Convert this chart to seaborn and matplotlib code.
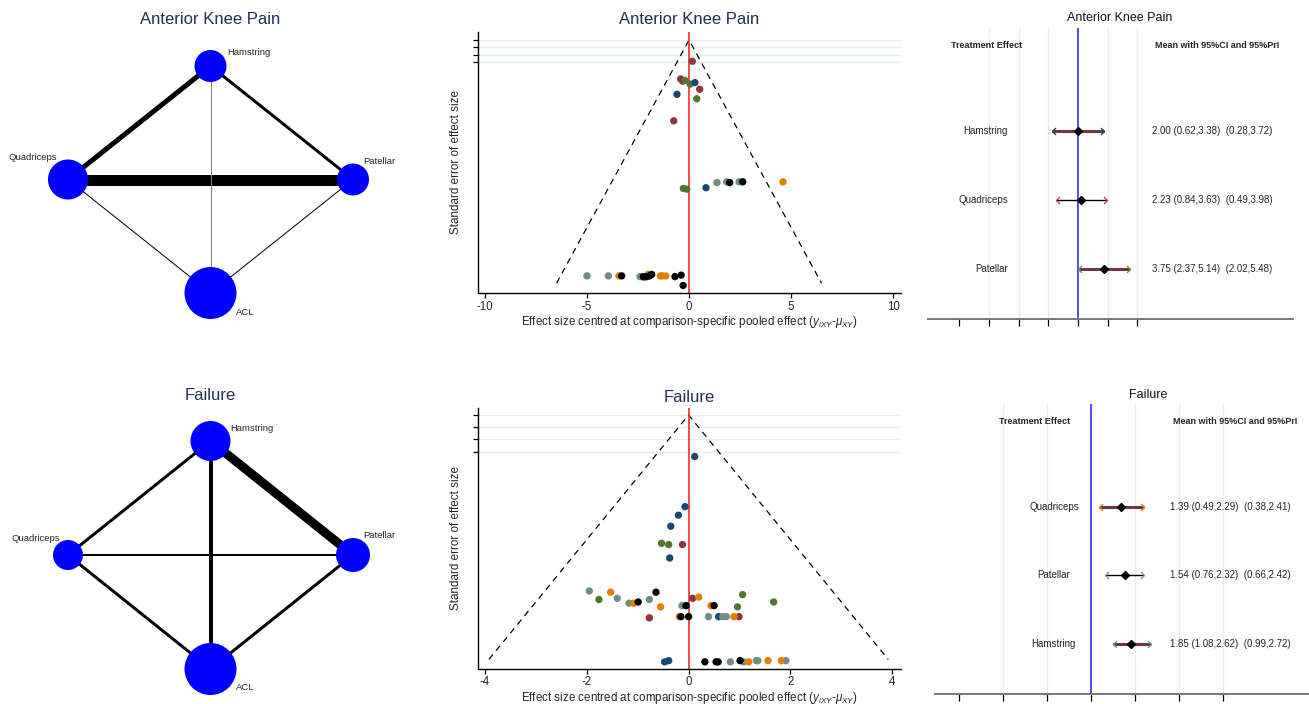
import matplotlib
matplotlib.use('Agg')
import numpy as np
import pandas as pd
import matplotlib.pyplot as plt
import seaborn as sns
from matplotlib.path import Path

sns.set_style('white')
plt.rcParams['font.family'] = ['Liberation Sans', 'DejaVu Sans']
plt.rcParams['mathtext.fontset'] = 'custom'
plt.rcParams['mathtext.rm'] = 'Liberation Sans'
plt.rcParams['mathtext.it'] = 'Liberation Sans:italic'

W, H = 1309, 704
TITLE_COL = '#1f2f55'

# ---------------- data ----------------
# network plots
node_names = ['Hamstring', 'Quadriceps', 'Patellar', 'ACL']
node_xy = {'Hamstring': (0, 1), 'Quadriceps': (-1, 0), 'Patellar': (1, 0), 'ACL': (0, -1)}
edge_pairs = [('Hamstring', 'Quadriceps'), ('Hamstring', 'Patellar'), ('Quadriceps', 'Patellar'),
              ('Hamstring', 'ACL'), ('Quadriceps', 'ACL'), ('Patellar', 'ACL')]
akp_node_size = [16, 20, 16, 26]
akp_edge_n = [5, 3, 11, 1, 1, 1]
fail_node_size = [20, 15, 17, 26]
fail_edge_n = [3, 9, 2, 4, 3, 3]

# comparison-adjusted funnel plots
akp_grp = (['maroon'] * 5 + ['forest_green'] * 5 + ['navy'] * 3 + ['teal'] * 7
           + ['dkorange'] * 6 + ['black'] * 10)
akp_x = [0.16, -0.41, -0.31, 0.52, -0.75,
         -0.20, 0.05, 0.38, -0.28, -0.11,
         0.29, -0.59, 0.83,
         1.37, 1.84, 2.45, -5.0, -3.95, -2.40, -2.20,
         4.60, -3.43, -2.00, -1.40, -1.32, -1.14,
         1.99, 2.63, -3.30, -2.24, -2.07, -1.94, -1.83, -0.69, -0.39, -0.29]
akp_se = [0.29, 0.53, 0.56, 0.67, 1.10,
          0.55, 0.60, 0.80, 2.02, 2.03,
          0.58, 0.74, 2.01,
          1.94, 1.93, 1.93, 3.21, 3.21, 3.22, 3.23,
          1.93, 3.21, 3.19, 3.21, 3.21, 3.21,
          1.94, 1.93, 3.21, 3.22, 3.22, 3.21, 3.19, 3.22, 3.20, 3.34]
akp_se_max = 3.31

fail_grp = (['navy'] * 8 + ['forest_green'] * 6 + ['maroon'] * 4 + ['teal'] * 13
            + ['dkorange'] * 10 + ['black'] * 10)
fail_x = [0.12, -0.07, -0.20, -0.35, -0.37, 0.59, -0.47, -0.39,
          -0.53, -0.39, -1.76, 1.06, 0.96, 1.67,
          -0.12, -0.77, 0.08, 0.99,
          -1.95, -1.40, -1.17, -0.77, -0.13, 0.39, 0.67, 0.74, 0.82, 1.08, 1.33, 1.36, 1.91,
          -1.53, -1.08, -0.55, 0.20, 0.44, -0.18, 0.89, 1.18, 1.56, 1.82,
          -0.64, -0.99, -0.05, 0.50, -0.15, 0.00, 0.32, 0.54, 0.58, 1.01]
fail_se = [0.34, 0.75, 0.82, 0.91, 1.17, 1.65, 2.02, 2.01,
           1.05, 1.06, 1.51, 1.47, 1.57, 1.53,
           1.06, 1.66, 1.50, 1.65,
           1.44, 1.50, 1.54, 1.51, 1.56, 1.65, 1.65, 1.65, 2.02, 2.02, 2.01, 2.01, 2.01,
           1.45, 1.54, 1.57, 1.49, 1.56, 1.65, 1.65, 2.02, 2.01, 2.01,
           1.45, 1.53, 1.56, 1.56, 1.65, 1.65, 2.02, 2.02, 2.02, 2.01]
fail_se_max = 2.0

# forest plots
akp_treat = ['Hamstring', 'Quadriceps', 'Patellar']
akp_mean = [2.00, 2.23, 3.75]
akp_ci = [(0.62, 3.38), (0.84, 3.63), (2.37, 5.14)]
akp_pri = [(0.28, 3.72), (0.49, 3.98), (2.02, 5.48)]
akp_ref = 2.0

fail_treat = ['Quadriceps', 'Patellar', 'Hamstring']
fail_mean = [1.39, 1.54, 1.85]
fail_ci = [(0.49, 2.29), (0.76, 2.32), (1.08, 2.62)]
fail_pri = [(0.38, 2.41), (0.66, 2.42), (0.99, 2.72)]
fail_ref = 0.0

forest_ticks = [-6, -4, -2, 0, 2, 4, 6]

palette = {'navy': '#1a476f', 'maroon': '#90353b', 'forest_green': '#55752f',
           'dkorange': '#e37e00', 'teal': '#6e8e84', 'black': '#000000'}


def rect(l, t, r, b):
    return [l / W, 1 - b / H, (r - l) / W, (b - t) / H]


fig = plt.figure(figsize=(W / 100, H / 100), dpi=100)


# ---------------- network plots ----------------
def network(ax, sizes, edge_n, label_off, grey_edge=None):
    for k, (a, b) in enumerate(edge_pairs):
        xa, ya = node_xy[a]
        xb, yb = node_xy[b]
        col = '#808080' if k == grey_edge else 'black'
        ax.plot([xa, xb], [ya, yb], color=col, lw=edge_n[k] * 0.72,
                solid_capstyle='butt', zorder=1)
    xs = [node_xy[n][0] for n in node_names]
    ys = [node_xy[n][1] for n in node_names]
    s = [(2 * r * 0.72) ** 2 for r in sizes]
    ax.scatter(xs, ys, s=s, color='#0000ff', edgecolor='none', zorder=2)
    for n, (dx, dy, ha) in zip(node_names, label_off):
        ax.annotate(n, node_xy[n], xytext=(dx * 0.72, -dy * 0.72), textcoords='offset points',
                    ha=ha, va='center', fontsize=6.8)
    ax.set_axis_off()


ax = fig.add_axes(rect(0, 40, 421, 340))
network(ax, akp_node_size, akp_edge_n,
        [(17, -13, 'left'), (-11, -22, 'right'), (10, -18, 'left'), (25, 19, 'left')], grey_edge=3)
ax.set_xlim(-1.477, 1.477)
ax.set_ylim(-1.414, 1.229)

ax = fig.add_axes(rect(0, 410, 421, 704))
network(ax, fail_node_size, fail_edge_n,
        [(20, -13, 'left'), (-8, -17, 'right'), (10, -20, 'left'), (25, 18, 'left')])
ax.set_xlim(-1.477, 1.477)
ax.set_ylim(-1.307, 1.272)

fig.text(210 / W, 1 - 20 / H, 'Anterior Knee Pain', ha='center', va='center', fontsize=12, color=TITLE_COL)
fig.text(210 / W, 1 - 396 / H, 'Failure', ha='center', va='center', fontsize=12, color=TITLE_COL)


# ---------------- funnel plots ----------------
def funnel(ax, x, se, grp, se_max, xticks, xlim, ylim):
    df = pd.DataFrame({'x': x, 'se': se, 'grp': grp})
    ax.set_yticks([0, 0.1, 0.2, 0.3])
    ax.set_yticklabels([])
    ax.yaxis.grid(True, color='#e4edf1', lw=1)
    ax.set_axisbelow(True)
    ax.plot([-1.96 * se_max, 0, 1.96 * se_max], [se_max, 0, se_max], color='black',
            lw=0.9, ls=(0, (5, 4)), zorder=2)
    ax.axvline(0, color='#e8302a', lw=1.2, zorder=2)
    sns.scatterplot(data=df, x='x', y='se', hue='grp', palette=palette, s=28,
                    edgecolor='none', legend=False, ax=ax, zorder=3)
    ax.set_xticks(xticks)
    ax.set_xticklabels([str(t) for t in xticks], fontsize=8.3)
    ax.set_xlim(*xlim)
    ax.set_ylim(*ylim)
    for sp in ['top', 'right']:
        ax.spines[sp].set_visible(False)
    for sp in ['left', 'bottom']:
        ax.spines[sp].set_color('black')
        ax.spines[sp].set_linewidth(1.0)
    ax.tick_params(axis='both', direction='out', length=3.5, width=0.9, color='black',
                   left=True, bottom=True, pad=2)
    ax.set_ylabel('Standard error of effect size', fontsize=8.4, labelpad=6)
    ax.set_xlabel(r'Effect size centred at comparison-specific pooled effect ($y_{iXY}$-$\mu_{XY}$)',
                  fontsize=8.4, labelpad=1)


ax = fig.add_axes(rect(477.7, 31.7, 901, 293.3))
funnel(ax, akp_x, akp_se, akp_grp, akp_se_max, [-10, -5, 0, 5, 10], (-10.35, 10.38), (3.447, -0.113))
ax = fig.add_axes(rect(477.7, 408.3, 901, 668.7))
funnel(ax, fail_x, fail_se, fail_grp, fail_se_max, [-4, -2, 0, 2, 4], (-4.14, 4.17), (2.076, -0.055))

fig.text(689 / W, 1 - 20 / H, 'Anterior Knee Pain', ha='center', va='center', fontsize=12, color=TITLE_COL)
fig.text(689 / W, 1 - 397 / H, 'Failure', ha='center', va='center', fontsize=12, color=TITLE_COL)

# ---------------- forest plots ----------------
chev_l = Path([(1, 1), (0, 0), (1, -1)], [Path.MOVETO, Path.LINETO, Path.LINETO])
chev_r = Path([(-1, 1), (0, 0), (-1, -1)], [Path.MOVETO, Path.LINETO, Path.LINETO])


def forest(ax, treat, mean, ci, pri, ref, arrow_cols, xlim, lab_x, lab_ha, head_x, val_x, vhead_x):
    ax.set_xlim(*xlim)
    ax.set_ylim(3.73, -0.5)
    for t in forest_ticks[1:]:
        if t != ref:
            ax.axvline(t, color='#e4edf1', lw=1, zorder=0)
    ax.axvline(ref, color='#2f2fff', lw=1.2, zorder=1)
    for i, name in enumerate(treat):
        y = i + 1
        thick = i != 1
        ax.hlines(y, pri[i][0], pri[i][1], color='#6b3844' if thick else 'black',
                  lw=2.2 if thick else 1.0, zorder=2)
        ax.plot([pri[i][0]], [y], marker=chev_l, ms=5, mfc='none', mec=arrow_cols[i], mew=1.0, zorder=3)
        ax.plot([pri[i][1]], [y], marker=chev_r, ms=5, mfc='none', mec=arrow_cols[i], mew=1.0, zorder=3)
        ax.plot([mean[i]], [y], marker='D', ms=4, color='black', zorder=4)
        tr = ax.get_yaxis_transform()
        ax.text(lab_x, y, name, transform=tr, ha=lab_ha, va='center', fontsize=7)
        ax.text(val_x, y, '%.2f (%.2f,%.2f)  (%.2f,%.2f)' % (mean[i], ci[i][0], ci[i][1], pri[i][0], pri[i][1]),
                transform=tr, ha='left', va='center', fontsize=7)
    tr = ax.get_yaxis_transform()
    ax.text(head_x, -0.24, 'Treatment Effect', transform=tr, ha='center', va='center',
            fontsize=6.5, fontweight='bold')
    ax.text(vhead_x, -0.24, 'Mean with 95%CI and 95%PrI', transform=tr, ha='center', va='center',
            fontsize=6.5, fontweight='bold')
    ax.set_xticks(forest_ticks)
    ax.set_xticklabels([])
    ax.set_yticks([])
    for sp in ['top', 'right', 'left']:
        ax.spines[sp].set_visible(False)
    ax.spines['bottom'].set_color('#777777')
    ax.spines['bottom'].set_linewidth(1.4)
    ax.tick_params(axis='x', direction='out', length=5, width=0.9, color='black', bottom=True)


ax = fig.add_axes(rect(928, 28, 1293, 319))
forest(ax, akp_treat, akp_mean, akp_ci, akp_pri, akp_ref, ['#1a476f', '#c0404e', '#6f9a3a'],
       (-8.10, 16.48), 0.219, 'right', 0.161, 0.614, 0.792)
ax = fig.add_axes(rect(935, 404, 1309, 694))
forest(ax, fail_treat, fail_mean, fail_ci, fail_pri, fail_ref, ['#e37e00', '#8f86d0', '#7b92a8'],
       (-7.10, 9.94), 0.318, 'center', 0.265, 0.629, 0.802)

fig.text(1120 / W, 1 - 18 / H, 'Anterior Knee Pain', ha='center', va='center', fontsize=9, color='#111111')
fig.text(1148 / W, 1 - 395 / H, 'Failure', ha='center', va='center', fontsize=9, color='#111111')

fig.savefig('out.png', dpi=100, facecolor='white')
